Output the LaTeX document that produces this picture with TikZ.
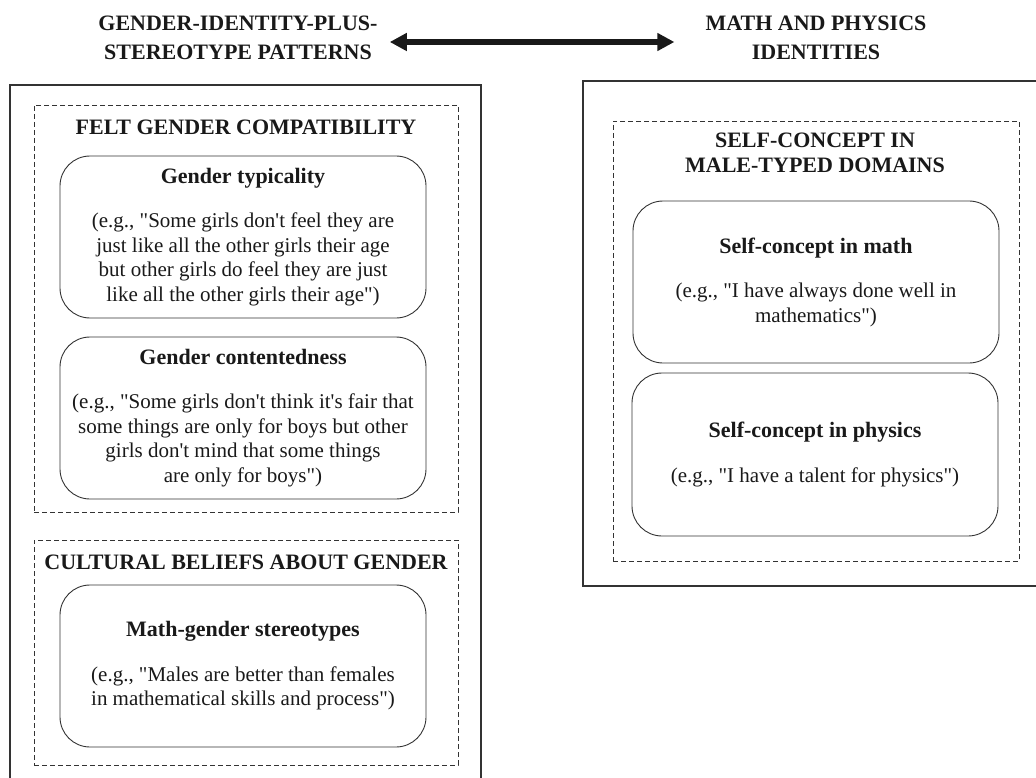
\documentclass[tikz,border=0pt]{standalone}
\usepackage{fontspec}
\setmainfont{Liberation Serif}[Ligatures=TeXOff]
\usepackage{tikz}
\usetikzlibrary{arrows.meta}
\usetikzlibrary{positioning}
\tikzset{panel/.style = {draw = black!80, line width = 1.5pt, inner sep = 0}}
\tikzset{group/.style = {draw = black!80, line width = 0.9pt, dash pattern = on 5pt off 3pt, inner sep = 0}}
\tikzset{item/.style = {draw = black!80, line width = 0.9pt, rounded corners = 30pt,
                        minimum width = 366pt, minimum height = 162pt, inner sep = 0,
                        align = center, text = black!90, font = \fontsize{21}{24.5}\selectfont}}
\tikzset{head/.style = {align = center, inner sep = 0, text = black!90,
                        font = \fontsize{22}{25}\selectfont\bfseries}}
\tikzset{title/.style = {align = center, inner sep = 0, text = black!90,
                         font = \fontsize{22}{29}\selectfont\bfseries}}
\tikzset{twoway/.style = {{Triangle[length = 17pt, width = 17pt]}-{Triangle[length = 17pt, width = 17pt]},
                          line width = 5.5pt, black!90}}
\newcommand{\itemhead}[1]{{\fontsize{22}{25}\selectfont\bfseries #1}\\[20pt]}

\begin{document}
\begin{tikzpicture}[x = 1pt, y = -1pt]
    \useasboundingbox (0, 0) rectangle (1036, 778);

    \node [title] (identity) at (238, 38) {GENDER-IDENTITY-PLUS-\\STEREOTYPE PATTERNS};
    \node [title] (domains) at (816, 38) {MATH AND PHYSICS\\IDENTITIES};
    \draw [twoway, shorten <= 12pt, shorten >= 31pt]
        ([yshift = -4pt] identity.east) -- ([yshift = -4pt] domains.west);

    \node [panel, minimum width = 471pt, minimum height = 695pt] (leftpanel) at (245.5, 432.5) {};
    \node [panel, minimum width = 455pt, minimum height = 505pt] (rightpanel) at (810.5, 333.5) {};

    \node [group, minimum width = 424pt, minimum height = 407pt] (felt) at (246, 308.5) {};
    \node [group, minimum width = 424pt, minimum height = 225pt] (beliefs) at (246, 652.5) {};
    \node [group, minimum width = 406pt, minimum height = 440pt] (selfconcept) at (816, 341) {};

    \node [head] (feltlabel) at (246, 127) {FELT GENDER COMPATIBILITY};
    \node [head] (beliefslabel) at (246, 562) {CULTURAL BELIEFS ABOUT GENDER};
    \node [head] (selflabel) at (815, 152.5) {SELF-CONCEPT IN\\MALE-TYPED DOMAINS};

    \node [item] (typicality) at (243, 237) {\itemhead{Gender typicality}
        (e.g., "Some girls don't feel they are\\
        just like all the other girls their age\\
        but other girls do feel they are just\\
        like all the other girls their age")};
    \node [item] (contentedness) at (243, 418) {\itemhead{Gender contentedness}
        (e.g., "Some girls don't think it's fair that\\
        some things are only for boys but other\\
        girls don't mind that some things\\
        are only for boys")};
    \node [item] (stereotypes) at (243, 666) {\itemhead{Math-gender stereotypes}
        (e.g., "Males are better than females\\
        in mathematical skills and process")};

    \node [item] (mathself) at (816, 282) {\itemhead{Self-concept in math}
        (e.g., "I have always done well in\\
        mathematics")};
    \node [item, minimum height = 163pt] (physicsself) at (815, 454.5) {\itemhead{Self-concept in physics}
        (e.g., "I have a talent for physics")};
\end{tikzpicture}
\end{document}
